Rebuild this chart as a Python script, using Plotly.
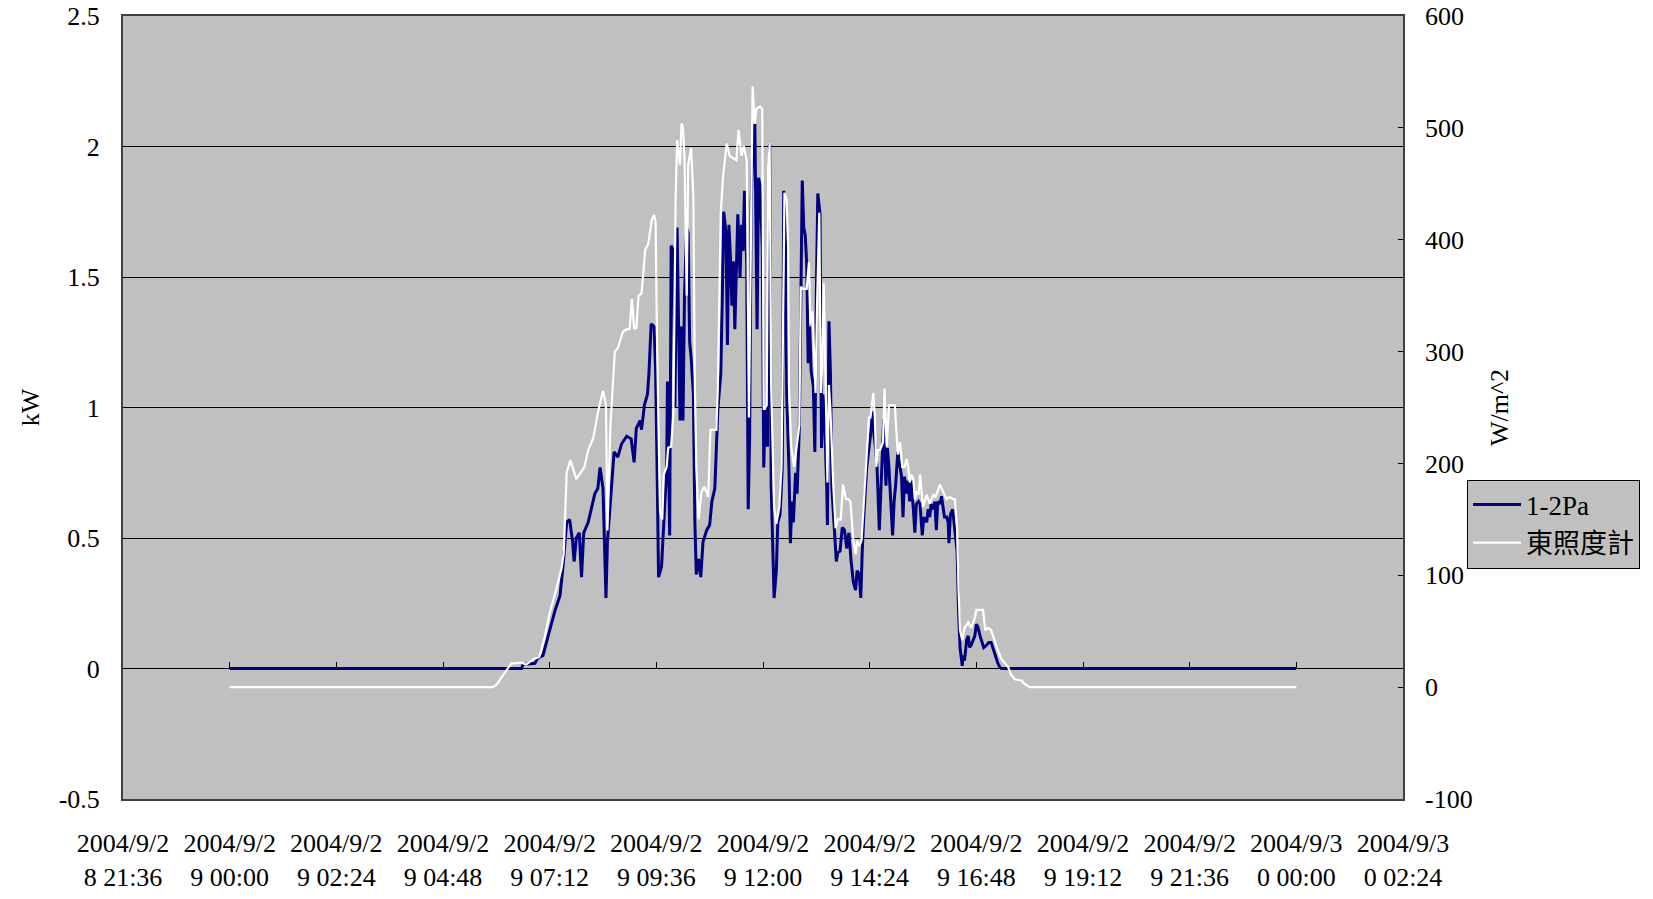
import pandas as pd
import plotly.graph_objects as go

# ---------------- data ----------------
pa_time = ["00:00", "06:34", "06:36", "06:52", "06:56", "07:03", "07:10", "07:19", "07:26", "07:30",
           "07:35", "07:39", "07:43", "07:45", "07:48", "07:52", "07:55", "07:58", "08:04", "08:08",
           "08:13", "08:17", "08:20", "08:24", "08:28", "08:30", "08:34", "08:39", "08:44", "08:49",
           "08:56", "09:02", "09:06", "09:09", "09:14", "09:16", "09:20", "09:24", "09:26", "09:29",
           "09:33", "09:35", "09:37", "09:39", "09:43", "09:46", "09:50", "09:51", "09:54", "09:56",
           "09:59", "10:01", "10:04", "10:08", "10:10", "10:12", "10:14", "10:17", "10:19", "10:21",
           "10:23", "10:26", "10:28", "10:30", "10:33", "10:36", "10:39", "10:44", "10:48", "10:51",
           "10:55", "10:59", "11:03", "11:05", "11:07", "11:10", "11:12", "11:14", "11:16", "11:18",
           "11:20", "11:22", "11:24", "11:26", "11:29", "11:31", "11:33", "11:35", "11:38", "11:40",
           "11:42", "11:44", "11:47", "11:49", "11:50", "11:52", "11:54", "11:56", "11:59", "12:01",
           "12:03", "12:06", "12:09", "12:11", "12:15", "12:18", "12:20", "12:23", "12:26", "12:28",
           "12:30", "12:32", "12:35", "12:37", "12:39", "12:41", "12:44", "12:46", "12:49", "12:51",
           "12:53", "12:55", "12:57", "12:59", "13:01", "13:03", "13:05", "13:08", "13:10", "13:12",
           "13:14", "13:17", "13:19", "13:21", "13:23", "13:26", "13:27", "13:29", "13:31", "13:33",
           "13:36", "13:39", "13:41", "13:44", "13:47", "13:50", "13:53", "13:56", "13:59", "14:02",
           "14:05", "14:07", "14:10", "14:12", "14:14", "14:16", "14:20", "14:23", "14:25", "14:28",
           "14:30", "14:32", "14:34", "14:37", "14:39", "14:41", "14:43", "14:46", "14:48", "14:50",
           "14:52", "14:55", "14:57", "14:59", "15:02", "15:05", "15:07", "15:09", "15:11", "15:14",
           "15:16", "15:18", "15:20", "15:23", "15:25", "15:27", "15:30", "15:32", "15:35", "15:37",
           "15:41", "15:43", "15:45", "15:47", "15:50", "15:52", "15:54", "15:56", "15:59", "16:01",
           "16:03", "16:05", "16:08", "16:10", "16:11", "16:13", "16:16", "16:18", "16:20", "16:22",
           "16:24", "16:26", "16:29", "16:30", "16:32", "16:35", "16:37", "16:39", "16:41", "16:44",
           "16:46", "16:48", "16:50", "16:53", "16:55", "16:58", "17:02", "17:05", "17:08", "17:11",
           "17:14", "17:17", "17:20", "17:22", "24:00"]
pa_kw = [0, 0, 0.015, 0.02, 0.04, 0.05, 0.125, 0.22, 0.28, 0.39,
         0.56, 0.57, 0.485, 0.41, 0.50, 0.52, 0.35, 0.52, 0.56, 0.61,
         0.67, 0.69, 0.77, 0.69, 0.27, 0.485, 0.64, 0.83, 0.81, 0.86,
         0.89, 0.88, 0.79, 0.92, 0.95, 0.915, 1.01, 1.05, 1.13, 1.32,
         1.31, 1.14, 0.77, 0.35, 0.39, 0.56, 0.77, 1.10, 0.51, 1.62,
         1.60, 1.00, 1.69, 0.95, 1.31, 0.95, 1.43, 1.69, 1.67, 1.25,
         1.19, 1.05, 0.56, 0.36, 0.42, 0.35, 0.485, 0.53, 0.55, 0.64,
         0.69, 0.99, 1.13, 1.41, 1.75, 1.67, 1.24, 1.70, 1.58, 1.39,
         1.56, 1.30, 1.55, 1.74, 1.50, 1.70, 1.60, 1.83, 1.55, 0.61,
         0.89, 1.78, 2.08, 2.08, 1.83, 1.30, 1.88, 1.85, 1.61, 0.77,
         0.99, 0.85, 2.01, 0.70, 0.27, 0.375, 0.56, 0.59, 0.77, 1.83,
         1.77, 1.05, 0.77, 0.48, 0.64, 0.56, 0.75, 0.67, 0.92, 1.31,
         1.87, 1.69, 1.66, 1.55, 1.17, 1.31, 1.14, 1.08, 0.83, 1.44,
         1.82, 1.74, 0.845, 1.05, 0.97, 0.70, 0.55, 1.33, 1.14, 0.69,
         0.53, 0.41, 0.445, 0.45, 0.54, 0.53, 0.46, 0.52, 0.41, 0.33,
         0.30, 0.375, 0.36, 0.27, 0.45, 0.58, 0.77, 0.83, 0.89, 0.985,
         0.89, 0.845, 0.77, 0.53, 0.69, 0.845, 0.955, 0.70, 0.845, 0.77,
         0.66, 0.51, 0.64, 0.70, 0.83, 0.77, 0.735, 0.58, 0.735, 0.67,
         0.72, 0.64, 0.72, 0.61, 0.52, 0.63, 0.64, 0.63, 0.51, 0.58,
         0.56, 0.61, 0.58, 0.63, 0.61, 0.64, 0.53, 0.64, 0.63, 0.66,
         0.61, 0.58, 0.58, 0.56, 0.48, 0.59, 0.61, 0.56, 0.52, 0.45,
         0.22, 0.08, 0.01, 0.05, 0.03, 0.11, 0.125, 0.08, 0.09, 0.11,
         0.125, 0.17, 0.16, 0.125, 0.11, 0.08, 0.09, 0.10, 0.10, 0.07,
         0.05, 0.02, 0.003, 0, 0]

lux_time = ["00:00", "05:55", "06:00", "06:10", "06:20", "06:34", "06:40", "06:50", "06:58", "07:05",
            "07:12", "07:21", "07:28", "07:31", "07:35", "07:40", "07:48", "07:59", "08:04", "08:11",
            "08:17", "08:24", "08:28", "08:30", "08:34", "08:40", "08:44", "08:51", "08:56", "09:00",
            "09:03", "09:06", "09:09", "09:12", "09:16", "09:18", "09:21", "09:25", "09:27", "09:30",
            "09:33", "09:35", "09:37", "09:41", "09:44", "09:46", "09:50", "09:52", "09:56", "09:59",
            "10:02", "10:04", "10:08", "10:10", "10:12", "10:14", "10:17", "10:19", "10:21", "10:23",
            "10:26", "10:28", "10:30", "10:33", "10:37", "10:41", "10:46", "10:49", "10:53", "10:57",
            "10:59", "11:03", "11:06", "11:11", "11:15", "11:20", "11:24", "11:27", "11:31", "11:34",
            "11:38", "11:41", "11:43", "11:46", "11:49", "11:51", "11:56", "11:59", "12:01", "12:05",
            "12:07", "12:09", "12:11", "12:15", "12:18", "12:22", "12:25", "12:27", "12:29", "12:32",
            "12:34", "12:35", "12:38", "12:42", "12:45", "12:49", "12:51", "12:54", "12:59", "13:02",
            "13:04", "13:07", "13:09", "13:11", "13:13", "13:16", "13:18", "13:20", "13:22", "13:25",
            "13:27", "13:29", "13:31", "13:35", "13:38", "13:41", "13:45", "13:48", "13:52", "13:55",
            "13:58", "14:02", "14:05", "14:07", "14:10", "14:13", "14:16", "14:20", "14:23", "14:25",
            "14:29", "14:31", "14:33", "14:35", "14:38", "14:42", "14:44", "14:47", "14:50", "14:53",
            "14:58", "15:00", "15:02", "15:05", "15:08", "15:11", "15:14", "15:16", "15:18", "15:20",
            "15:23", "15:25", "15:27", "15:30", "15:32", "15:36", "15:41", "15:45", "15:50", "15:53",
            "15:59", "16:03", "16:08", "16:12", "16:17", "16:19", "16:22", "16:24", "16:26", "16:29",
            "16:32", "16:37", "16:41", "16:46", "16:48", "16:53", "16:57", "17:00", "17:04", "17:08",
            "17:13", "17:17", "17:22", "17:26", "17:31", "17:35", "17:40", "17:49", "17:53", "18:00",
            "24:00"]
lux_wm2 = [0, 0, 2, 12, 21, 22, 20, 25, 27, 44,
           66, 88, 106, 120, 192, 203, 186, 197, 212, 223,
           245, 265, 252, 140, 234, 300, 303, 318, 320, 320,
           347, 321, 321, 350, 352, 367, 391, 396, 407, 418,
           422, 416, 306, 157, 150, 190, 197, 214, 215, 245,
           435, 489, 467, 504, 500, 473, 350, 467, 475, 482,
           438, 270, 197, 150, 175, 179, 170, 230, 230, 230,
           267, 424, 456, 486, 475, 473, 471, 498, 475, 484,
           471, 241, 380, 537, 504, 517, 519, 517, 248, 252,
           464, 486, 270, 161, 146, 161, 197, 307, 442, 435,
           391, 270, 215, 197, 212, 234, 358, 356, 356, 380,
           325, 336, 299, 263, 343, 424, 263, 288, 361, 263,
           183, 270, 248, 179, 142, 150, 150, 181, 168, 168,
           166, 131, 119, 131, 126, 131, 161, 201, 241, 241,
           263, 241, 197, 212, 212, 219, 267, 215, 252, 252,
           252, 230, 208, 219, 197, 197, 204, 197, 183, 190,
           186, 168, 175, 172, 190, 161, 172, 164, 172, 170,
           181, 175, 168, 170, 168, 168, 142, 88, 51, 42,
           53, 58, 53, 62, 69, 69, 69, 51, 53, 51,
           40, 33, 25, 22, 18, 11, 7, 6, 3, 0,
           0]

tick_text = ["2004/9/2<br>8 21:36", "2004/9/2<br>9 00:00", "2004/9/2<br>9 02:24",
             "2004/9/2<br>9 04:48", "2004/9/2<br>9 07:12", "2004/9/2<br>9 09:36",
             "2004/9/2<br>9 12:00", "2004/9/2<br>9 14:24", "2004/9/2<br>9 16:48",
             "2004/9/2<br>9 19:12", "2004/9/2<br>9 21:36", "2004/9/3<br>0 00:00",
             "2004/9/3<br>0 02:24"]
kw_ticks = [-0.5, 0, 0.5, 1, 1.5, 2, 2.5]
kw_tick_text = ["-0.5", "0", "0.5", "1", "1.5", "2", "2.5"]
wm2_ticks = [-100, 0, 100, 200, 300, 400, 500, 600]
wm2_tick_text = ["-100", "0", "100", "200", "300", "400", "500", "600"]

series_names = ["1-2Pa", "東照度計"]

# ---------------- helpers ----------------
base = pd.Timestamp("2004-09-29 00:00")


def to_ts(s):
    h, m = s.split(":")
    return base + pd.Timedelta(minutes=int(h) * 60 + int(m))


pa_x = [to_ts(t) for t in pa_time]
lux_x = [to_ts(t) for t in lux_time]
tick_vals = list(pd.date_range("2004-09-28 21:36", periods=len(tick_text), freq="144min"))
x_range = [tick_vals[0], tick_vals[-1]]

FONT = "Liberation Serif, 'Noto Sans CJK TC', serif"
FS = 26

fig = go.Figure()
fig.add_trace(go.Scatter(x=pa_x, y=pa_kw, mode="lines", name=series_names[0],
                         line=dict(color="#000080", width=3), yaxis="y"))
fig.add_trace(go.Scatter(x=lux_x, y=lux_wm2, mode="lines", name=series_names[1],
                         line=dict(color="#FFFFFF", width=2.2), yaxis="y2"))
# helper trace so the tick-mark axis at kW = 0 is drawn
fig.add_trace(go.Scatter(x=[tick_vals[0]], y=[None], xaxis="x2", yaxis="y",
                         showlegend=False, hoverinfo="skip", mode="lines"))

fig.update_layout(
    width=1653, height=899,
    margin=dict(l=123, r=250, t=16, b=100, autoexpand=False),
    paper_bgcolor="white",
    plot_bgcolor="#C0C0C0",
    font=dict(family=FONT, size=FS, color="black"),
    showlegend=True,
    legend=dict(x=1.05, y=0.408, xanchor="left", yanchor="top",
                bgcolor="#C0C0C0", bordercolor="black", borderwidth=1,
                font=dict(family=FONT, size=27), itemwidth=48, tracegroupgap=0),
    xaxis=dict(range=x_range, tickvals=tick_vals, ticktext=tick_text, automargin=False,
               showgrid=False, zeroline=False, ticks="",
               showline=True, linecolor="#404040", linewidth=2, mirror=True,
               ticklabelstandoff=20, tickfont=dict(size=FS)),
    xaxis2=dict(range=x_range, tickvals=tick_vals, overlaying="x", anchor="free",
                position=1 / 6, side="bottom", showticklabels=False, ticks="inside",
                ticklen=7, tickcolor="black", tickwidth=1, showgrid=False,
                zeroline=False, showline=False, automargin=False),
    yaxis=dict(range=[-0.5, 2.5], tickvals=kw_ticks, ticktext=kw_tick_text, automargin=False,
               showgrid=True, gridcolor="black", gridwidth=1,
               zeroline=True, zerolinecolor="black", zerolinewidth=1,
               showline=True, linecolor="#404040", linewidth=2, mirror=True,
               ticks="inside", ticklen=5, tickcolor="black",
               ticklabelstandoff=16,
               title=dict(text="kW", standoff=12, font=dict(size=FS))),
    yaxis2=dict(range=[-100, 600], tickvals=wm2_ticks, ticktext=wm2_tick_text, automargin=False,
                overlaying="y", side="right", anchor="x",
                showgrid=False, zeroline=False, showline=False,
                ticks="inside", ticklen=5, tickcolor="black",
                ticklabelstandoff=21,
                title=dict(text="W/m^2", standoff=18, font=dict(size=FS))),
)

fig.write_html("out.html")
